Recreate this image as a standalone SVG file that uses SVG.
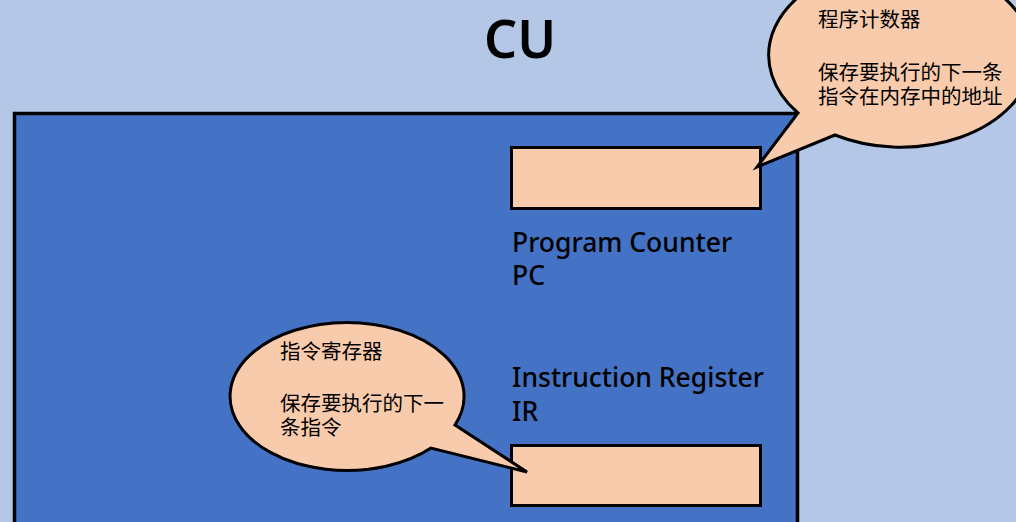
<svg xmlns="http://www.w3.org/2000/svg" width="1016" height="522" viewBox="0 0 1016 522">
<style>
.frame{fill:#4472C4;stroke:#000;stroke-width:3.5}
.reg{fill:#F8CBAD;stroke:#000;stroke-width:3}
.call{fill:#F8CBAD;stroke:#000;stroke-width:3;stroke-linejoin:miter}
.en{font-family:"Noto Sans","Liberation Sans",sans-serif;font-size:26.5px;font-weight:500;fill:#000}
.zh{font-family:"Noto Sans CJK SC","Noto Sans",sans-serif;font-size:20.5px;font-weight:400;fill:#000}
.title{font-family:"Noto Sans","Liberation Sans",sans-serif;font-size:52px;font-weight:600;fill:#000;text-anchor:middle}
</style>
<rect x="0" y="0" width="1016" height="522" fill="#B4C7E7"/>
<text class="title" x="520" y="58">CU</text>
<g id="cu">
<rect class="frame" x="14.5" y="113.5" width="783" height="430"/>
</g>
<g id="pc">
<rect class="reg" x="511.5" y="147.5" width="249" height="61"/>
<text class="en" x="512" y="252">Program Counter</text>
<text class="en" x="512" y="285">PC</text>
</g>
<g id="ir">
<text class="en" x="512" y="387">Instruction Register</text>
<text class="en" x="512" y="421">IR</text>
<rect class="reg" x="511.5" y="445.5" width="249" height="60"/>
</g>
<g id="connectors">
<g id="callout-pc">
<path class="call" d="M835,135 L757,167 L798,113 A132 92 0 1 1 835 135 Z"/>
<text class="zh" x="818" y="27">程序计数器</text>
<text class="zh" x="818" y="80">保存要执行的下一条</text>
<text class="zh" x="818" y="104">指令在内存中的地址</text>
</g>
<g id="callout-ir">
<path class="call" d="M455,425 L527,472 L431,448 A117 74 0 1 1 455 425 Z"/>
<text class="zh" x="280" y="359">指令寄存器</text>
<text class="zh" x="280" y="411">保存要执行的下一</text>
<text class="zh" x="280" y="435">条指令</text>
</g>
</g>
</svg>
